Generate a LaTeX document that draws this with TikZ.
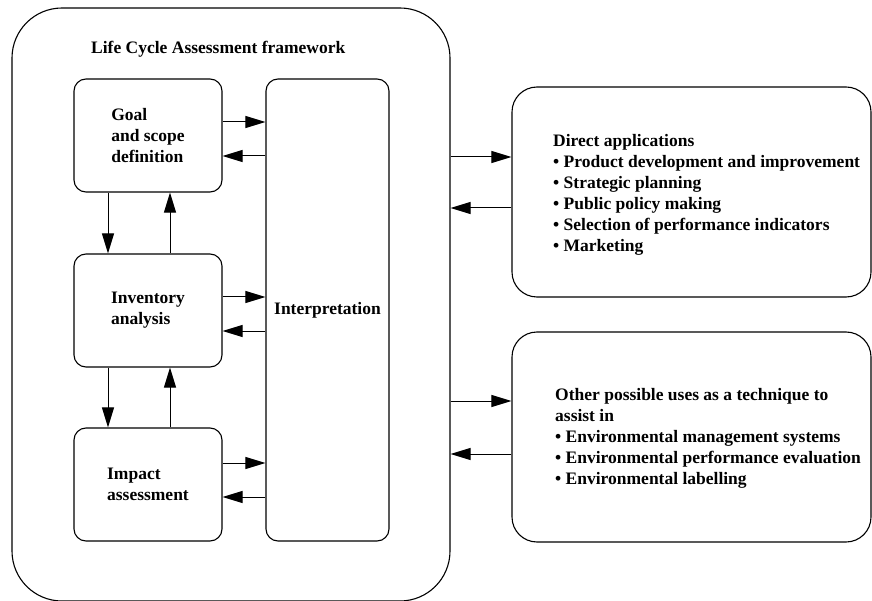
\documentclass[tikz,border=0pt]{standalone}
\usepackage{fontspec}
\setmainfont{Liberation Serif}
\usetikzlibrary{arrows.meta,positioning}

\begin{document}
\begin{tikzpicture}[x=1pt,y=-1pt,
  box/.style={draw=black,line width=1.1pt,rounded corners=12pt,inner sep=0pt,
    minimum width=148pt,minimum height=113pt,align=left},
  bigbox/.style={draw=black,line width=1.1pt,rounded corners=25pt,inner sep=0pt,
    minimum width=359pt,minimum height=210pt},
  txt/.style={font=\fontsize{17.5}{21}\selectfont\bfseries,align=left},
  arr/.style={draw=black,line width=1pt,-{Triangle[length=20pt,width=12pt]}}]
\tikzstyle{every node}+=[inner sep=0pt]
\useasboundingbox (0,0) rectangle (872,601);
% frame
\node [draw=black,line width=1.1pt,rounded corners=50pt,minimum width=438pt,
  minimum height=593pt] (frame) at (231,304.5) {};
\node [txt,anchor=base west] (title) at (91,54) {Life Cycle Assessment framework};
% phases
\node [box,txt] (goal) at (148,135.5) {Goal\\and scope\\definition};
\node [box,txt] (inv) at (148,310.5) {Inventory\\analysis};
\node [box,txt] (imp) at (148,484.5) {Impact\\assessment};
\node [box,txt,minimum width=123pt,minimum height=462pt] (interp) at (327.5,310) {Interpretation};
% applications
\node [bigbox] (direct) at (691.5,192) {};
\node [txt,anchor=west] (dtext) at (553,194.5) {Direct applications\\
  • Product development and improvement\\• Strategic planning\\
  • Public policy making\\• Selection of performance indicators\\• Marketing};
\node [bigbox] (other) at (691.5,437) {};
\node [txt,anchor=west] (otext) at (555,438) {Other possible uses as a technique to\\
  assist in\\• Environmental management systems\\
  • Environmental performance evaluation\\• Environmental labelling};
% phase <-> interpretation
\coordinate (g1) at ([yshift=13.5pt]goal.east);
\coordinate (g2) at ([yshift=-20.5pt]goal.east);
\coordinate (n1) at ([yshift=13.5pt]inv.east);
\coordinate (n2) at ([yshift=-20.5pt]inv.east);
\coordinate (m1) at ([yshift=21.5pt]imp.east);
\coordinate (m2) at ([yshift=-12.5pt]imp.east);
\draw [arr] (g1) -- (g1 -| interp.west);
\draw [arr] (g2 -| interp.west) -- (g2);
\draw [arr] (n1) -- (n1 -| interp.west);
\draw [arr] (n2 -| interp.west) -- (n2);
\draw [arr] (m1) -- (m1 -| interp.west);
\draw [arr] (m2 -| interp.west) -- (m2);
% phase -> phase
\draw [arr] ([xshift=-40pt]goal.south) -- ([xshift=-40pt]inv.north);
\draw [arr] ([xshift=22pt]inv.north) -- ([xshift=22pt]goal.south);
\draw [arr] ([xshift=-40pt]inv.south) -- ([xshift=-40pt]imp.north);
\draw [arr] ([xshift=22pt]imp.north) -- ([xshift=22pt]inv.south);
% frame <-> applications
\coordinate (d1) at ([yshift=35pt]direct.west);
\coordinate (d2) at ([yshift=-16pt]direct.west);
\coordinate (o1) at ([yshift=36pt]other.west);
\coordinate (o2) at ([yshift=-17pt]other.west);
\draw [arr] (d1 -| frame.east) -- (d1);
\draw [arr] (d2) -- (d2 -| frame.east);
\draw [arr] (o1 -| frame.east) -- (o1);
\draw [arr] (o2) -- (o2 -| frame.east);
\end{tikzpicture}
\end{document}
